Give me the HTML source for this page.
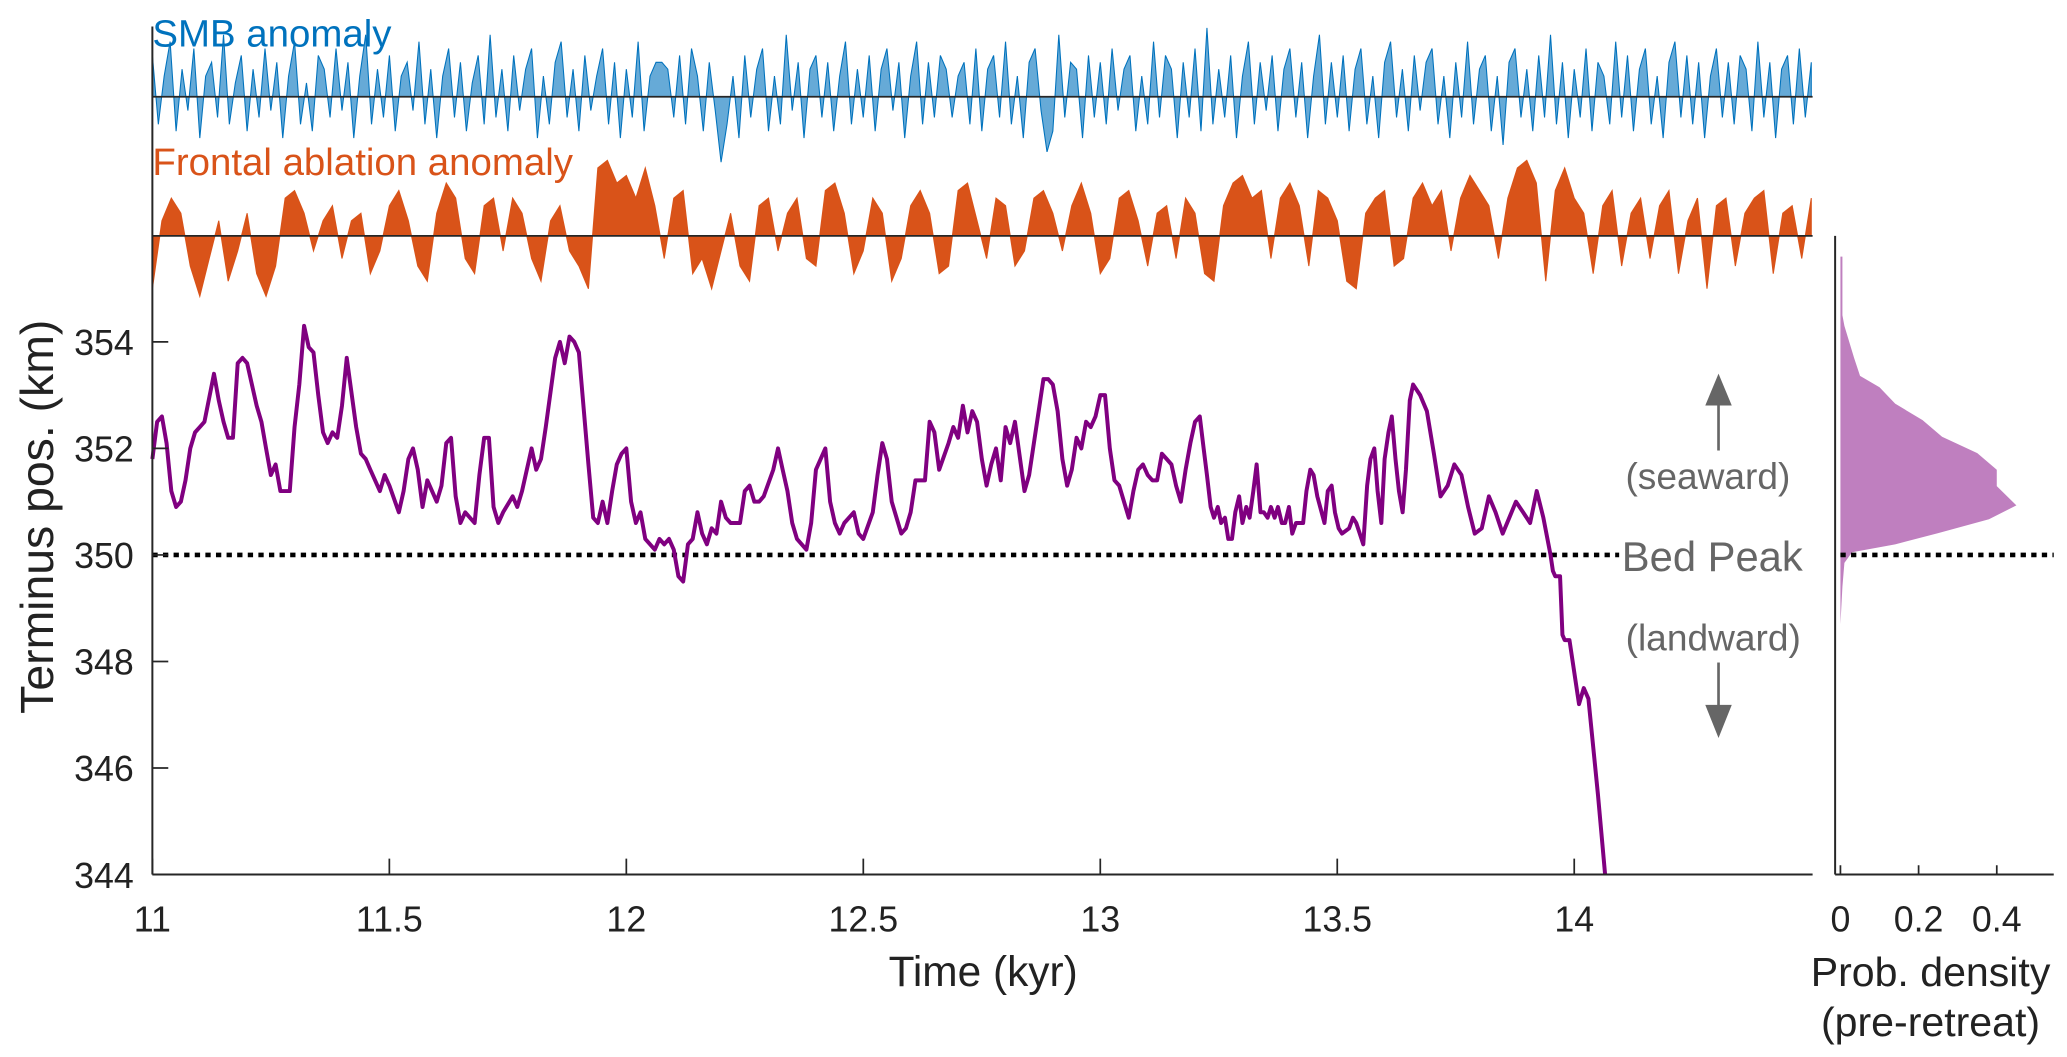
<!DOCTYPE html>
<html><head><meta charset="utf-8"><style>
html,body{margin:0;padding:0;background:#fff;}
svg{display:block;font-family:"Liberation Sans",sans-serif;}
</style></head><body>
<svg id="chart" width="2067" height="1057" viewBox="0 0 1560 797.7" xmlns="http://www.w3.org/2000/svg">
<g id="smbG"></g>
<g id="faG"></g>
<g id="densG"></g>
<g id="mainG"></g>
<g id="axG"></g>
<text x="115" y="35" font-size="29" fill="#0072BD">SMB anomaly</text>
<text x="115" y="132" font-size="29" fill="#D95319">Frontal ablation anomaly</text>
<text x="1289" y="369" font-size="28" fill="#666" text-anchor="middle">(seaward)</text>
<text x="1224" y="431" font-size="31.5" fill="#666">Bed Peak</text>
<text x="1293" y="491" font-size="28" fill="#666" text-anchor="middle">(landward)</text>
<g><line x1="1297" y1="340" x2="1297" y2="300" stroke="#666" stroke-width="2"/><polygon points="1297,282 1287,306 1307,306" fill="#666"/></g>
<g><line x1="1297" y1="500" x2="1297" y2="538" stroke="#666" stroke-width="2"/><polygon points="1297,557 1287,532 1307,532" fill="#666"/></g>
<text x="742" y="744" font-size="32" fill="#222" text-anchor="middle">Time (kyr)</text>
<text transform="translate(40,390) rotate(-90)" font-size="35" fill="#222" text-anchor="middle">Terminus pos. (km)</text>
<text x="1457" y="744" font-size="31" fill="#222" text-anchor="middle">Prob. density</text>
<text x="1457" y="782" font-size="31" fill="#222" text-anchor="middle">(pre-retreat)</text>
</svg>
<script>
const termT=[11.00,11.01,11.02,11.03,11.04,11.05,11.06,11.07,11.08,11.09,11.10,11.11,11.13,11.14,11.15,11.16,11.17,11.18,11.19,11.20,11.22,11.23,11.24,11.25,11.26,11.27,11.29,11.30,11.31,11.32,11.33,11.34,11.35,11.36,11.37,11.38,11.39,11.40,11.41,11.43,11.44,11.45,11.46,11.48,11.49,11.50,11.52,11.53,11.54,11.55,11.56,11.57,11.58,11.60,11.61,11.62,11.63,11.64,11.65,11.66,11.68,11.69,11.70,11.71,11.72,11.73,11.74,11.76,11.77,11.78,11.80,11.81,11.82,11.83,11.85,11.86,11.87,11.88,11.89,11.90,11.92,11.93,11.94,11.95,11.96,11.97,11.98,11.99,12.00,12.01,12.02,12.03,12.04,12.06,12.07,12.08,12.09,12.10,12.11,12.12,12.13,12.14,12.15,12.16,12.17,12.18,12.19,12.20,12.21,12.22,12.24,12.25,12.26,12.27,12.28,12.29,12.31,12.32,12.33,12.34,12.35,12.36,12.38,12.39,12.40,12.42,12.43,12.44,12.45,12.46,12.48,12.49,12.50,12.52,12.53,12.54,12.55,12.56,12.58,12.59,12.60,12.61,12.63,12.64,12.65,12.66,12.68,12.69,12.70,12.71,12.72,12.73,12.74,12.75,12.76,12.77,12.78,12.79,12.80,12.81,12.82,12.84,12.85,12.86,12.87,12.88,12.89,12.90,12.91,12.92,12.93,12.94,12.95,12.96,12.97,12.98,12.99,13.00,13.01,13.02,13.03,13.04,13.06,13.07,13.08,13.09,13.10,13.11,13.12,13.13,13.14,13.15,13.16,13.17,13.18,13.19,13.20,13.21,13.218,13.225,13.233,13.24,13.248,13.255,13.263,13.27,13.278,13.285,13.293,13.30,13.308,13.315,13.323,13.33,13.338,13.345,13.353,13.36,13.368,13.375,13.383,13.39,13.398,13.405,13.413,13.428,13.435,13.443,13.45,13.458,13.473,13.48,13.488,13.495,13.503,13.51,13.525,13.533,13.54,13.555,13.563,13.57,13.578,13.585,13.593,13.60,13.608,13.615,13.623,13.63,13.638,13.645,13.653,13.66,13.675,13.689,13.704,13.718,13.733,13.747,13.762,13.776,13.79,13.805,13.82,13.834,13.849,13.863,13.877,13.892,13.907,13.921,13.935,13.95,13.955,13.96,13.97,13.975,13.98,13.99,14.00,14.01,14.02,14.03,14.05,14.065];
const termV=[351.8,352.5,352.6,352.1,351.2,350.9,351.0,351.4,352.0,352.3,352.4,352.5,353.4,352.9,352.5,352.2,352.2,353.6,353.7,353.6,352.8,352.5,352.0,351.5,351.7,351.2,351.2,352.4,353.2,354.3,353.9,353.8,353.0,352.3,352.1,352.3,352.2,352.8,353.7,352.4,351.9,351.8,351.6,351.2,351.5,351.3,350.8,351.2,351.8,352.0,351.6,350.9,351.4,351.0,351.3,352.1,352.2,351.1,350.6,350.8,350.6,351.5,352.2,352.2,350.9,350.6,350.8,351.1,350.9,351.2,352.0,351.6,351.8,352.4,353.7,354.0,353.6,354.1,354.0,353.8,351.7,350.7,350.6,351.0,350.6,351.2,351.7,351.9,352.0,351.0,350.6,350.8,350.3,350.1,350.3,350.2,350.3,350.1,349.6,349.5,350.2,350.3,350.8,350.4,350.2,350.5,350.4,351.0,350.7,350.6,350.6,351.2,351.3,351.0,351.0,351.1,351.6,352.0,351.6,351.2,350.6,350.3,350.1,350.6,351.6,352.0,351.0,350.6,350.4,350.6,350.8,350.4,350.3,350.8,351.5,352.1,351.8,351.0,350.4,350.5,350.8,351.4,351.4,352.5,352.3,351.6,352.1,352.4,352.2,352.8,352.3,352.7,352.5,351.8,351.3,351.7,352.0,351.4,352.4,352.1,352.5,351.2,351.5,352.1,352.7,353.3,353.3,353.2,352.7,351.8,351.3,351.6,352.2,352.0,352.5,352.4,352.6,353.0,353.0,352.0,351.4,351.3,350.7,351.2,351.6,351.7,351.5,351.4,351.4,351.9,351.8,351.7,351.3,351.0,351.6,352.1,352.5,352.6,352.0,351.5,350.9,350.7,350.9,350.6,350.7,350.3,350.3,350.8,351.1,350.6,350.9,350.7,351.2,351.7,350.8,350.8,350.7,350.9,350.7,350.9,350.6,350.6,350.9,350.4,350.6,350.6,351.2,351.6,351.5,351.1,350.6,351.2,351.3,350.8,350.5,350.4,350.5,350.7,350.6,350.2,351.3,351.8,352.0,351.2,350.6,351.8,352.3,352.6,351.8,351.2,350.8,351.6,352.9,353.2,353.0,352.7,351.9,351.1,351.3,351.7,351.5,350.9,350.4,350.5,351.1,350.8,350.4,350.7,351.0,350.8,350.6,351.2,350.7,350.0,349.7,349.6,349.6,348.5,348.4,348.4,347.8,347.2,347.5,347.3,345.5,344.0];
const densKm=[355.6,354.5,354.3,353.7,353.36,353.15,352.84,352.53,352.22,351.91,351.6,351.29,350.93,350.67,350.41,350.2,350.05,349.85,349.4,348.7];
const densVal=[0.005,0.005,0.01,0.035,0.05,0.1,0.14,0.21,0.26,0.35,0.40,0.40,0.45,0.38,0.25,0.14,0.03,0.01,0.005,0];
const faVals=[-0.7,0.2,0.5,0.3,-0.4,-0.8,-0.3,0.2,-0.6,-0.2,0.3,-0.5,-0.8,-0.4,0.5,0.6,0.3,-0.2,0.2,0.4,-0.3,0.2,0.3,-0.5,-0.2,0.4,0.6,0.2,-0.4,-0.6,0.3,0.7,0.5,-0.3,-0.5,0.4,0.5,-0.2,0.5,0.3,-0.3,-0.6,0.2,0.4,-0.2,-0.4,-0.7,0.9,1.0,0.7,0.8,0.5,0.9,0.4,-0.3,0.5,0.6,-0.5,-0.3,-0.7,-0.2,0.3,-0.4,-0.6,0.4,0.5,-0.2,0.3,0.5,-0.3,-0.4,0.6,0.7,0.3,-0.5,-0.2,0.5,0.3,-0.6,-0.3,0.4,0.6,0.3,-0.5,-0.4,0.6,0.7,0.2,-0.3,0.5,0.4,-0.4,-0.2,0.5,0.6,0.3,-0.2,0.4,0.7,0.3,-0.5,-0.3,0.5,0.6,0.2,-0.4,0.3,0.4,-0.3,0.5,0.3,-0.5,-0.6,0.4,0.7,0.8,0.5,0.6,-0.3,0.5,0.7,0.4,-0.4,0.6,0.5,0.2,-0.6,-0.7,0.3,0.5,0.6,-0.4,-0.3,0.5,0.7,0.4,0.6,-0.2,0.5,0.8,0.6,0.4,-0.3,0.5,0.9,1.0,0.7,-0.6,0.6,0.9,0.5,0.3,-0.5,0.4,0.6,-0.4,0.3,0.5,-0.3,0.4,0.6,-0.5,0.2,0.5,-0.7,0.4,0.5,-0.4,0.3,0.5,0.6,-0.5,0.3,0.4,-0.3,0.5];
const smbVals=[0.6,-0.4,0.3,0.8,-0.5,0.4,-0.2,0.7,-0.6,0.3,0.5,-0.3,0.9,-0.4,0.2,0.6,-0.5,0.4,-0.3,0.7,
-0.2,0.5,-0.6,0.3,0.8,-0.4,0.2,-0.5,0.6,0.4,-0.3,0.7,-0.2,0.5,-0.6,0.3,0.9,-0.4,0.4,-0.3,
0.6,-0.5,0.3,0.5,-0.2,0.8,-0.4,0.4,-0.6,0.3,0.7,-0.3,0.5,-0.5,0.2,0.6,-0.4,0.9,-0.3,0.4,
-0.5,0.6,-0.2,0.4,0.7,-0.6,0.3,-0.4,0.5,0.8,-0.3,0.4,-0.5,0.6,-0.2,0.3,0.7,-0.4,0.5,-0.6,
0.4,-0.3,0.8,-0.5,0.3,0.5,0.5,0.4,-0.3,0.6,-0.4,0.7,0.3,-0.5,0.5,-0.2,-0.95,-0.4,0.3,-0.6,
0.6,-0.3,0.4,0.7,-0.5,0.3,-0.4,0.9,-0.2,0.5,-0.6,0.4,0.6,-0.3,0.5,-0.5,0.3,0.8,-0.4,0.4,
-0.3,0.6,-0.5,0.4,0.7,-0.2,0.5,-0.6,0.3,0.8,-0.4,0.5,-0.3,0.6,0.4,-0.3,0.3,0.5,-0.4,0.7,
-0.5,0.4,0.6,-0.3,0.8,-0.4,0.3,-0.6,0.5,0.7,-0.2,-0.8,-0.5,0.9,-0.3,0.5,0.4,-0.6,0.6,-0.3,
0.5,-0.4,0.7,-0.2,0.4,0.6,-0.5,0.3,-0.4,0.8,-0.3,0.6,0.4,-0.6,0.5,-0.3,0.7,-0.5,1.0,-0.4,
0.4,-0.3,0.6,-0.6,0.3,0.8,-0.4,0.5,-0.2,0.6,-0.5,0.4,0.7,-0.3,0.5,-0.6,0.3,0.9,-0.4,0.5,
-0.3,0.6,-0.5,0.4,0.7,-0.4,0.3,-0.6,0.5,0.8,-0.3,0.4,-0.5,0.6,-0.2,0.5,0.7,-0.4,0.3,-0.6,
0.5,-0.3,0.8,-0.4,0.4,0.6,-0.5,0.3,-0.7,0.5,0.7,-0.3,0.4,-0.5,0.6,-0.3,0.9,-0.4,0.5,-0.6,
0.4,-0.3,0.7,-0.5,0.5,0.3,-0.4,0.8,-0.3,0.6,-0.5,0.4,0.7,-0.4,0.3,-0.6,0.5,0.8,-0.3,0.6,
-0.4,0.5,-0.6,0.3,0.7,-0.3,0.5,-0.4,0.6,0.4,-0.5,0.8,-0.3,0.5,-0.6,0.4,0.6,-0.4,0.7,-0.3,0.5];
const xTicks=[11,11.5,12,12.5,13,13.5,14];
const xTickLabels=["11","11.5","12","12.5","13","13.5","14"];
const yTicks=[344,346,348,350,352,354];
const dTicks=[0,0.2,0.4];
const dTickLabels=["0","0.2","0.4"];
const bedPeak=350;
const faStep=0.02, smbStep=0.0125, t0=11;

const NS="http://www.w3.org/2000/svg";
const X=t=>115+(t-11)*357.7;
const Y=v=>660-(v-344)*40.2;
const Ys=v=>73-v*52;
const Yf=v=>178-v*57;
const Xd=d=>1389+d*295;
function mk(tag,attrs,parent){const e=document.createElementNS(NS,tag);for(const k in attrs)e.setAttribute(k,attrs[k]);parent.appendChild(e);return e;}

const smbG=document.getElementById('smbG');
let sp=`M${X(t0)},73`;
smbVals.forEach((v,i)=>{sp+=`L${X(t0+i*smbStep).toFixed(1)},${Ys(v).toFixed(1)}`;});
sp+=`L${X(t0+(smbVals.length-1)*smbStep).toFixed(1)},73Z`;
const smbPath=mk('path',{d:sp,fill:'#0072BD','fill-opacity':0.6,stroke:'#0072BD','stroke-width':0.8},smbG);


const faG=document.getElementById('faG');
let fp=`M${X(t0)},178`;
faVals.forEach((v,i)=>{fp+=`L${X(t0+i*faStep).toFixed(1)},${Yf(v).toFixed(1)}`;});
fp+=`L${X(t0+(faVals.length-1)*faStep).toFixed(1)},178Z`;
const faPath=mk('path',{d:fp,fill:'#D95319',stroke:'#D95319','stroke-width':0.8},faG);


const densG=document.getElementById('densG');
let dp=`M${Xd(0)},${Y(densKm[0])}`;
densKm.forEach((k,i)=>{dp+=`L${Xd(densVal[i]).toFixed(1)},${Y(k).toFixed(1)}`;});
dp+=`L${Xd(0)},${Y(densKm[densKm.length-1]).toFixed(1)}Z`;
const dPath=mk('path',{d:dp,fill:'#BF7FBF'},densG);


const mainG=document.getElementById('mainG');
const bl=mk('line',{x1:115,x2:1222,y1:Y(bedPeak),y2:Y(bedPeak),stroke:'#000','stroke-width':3.5,'stroke-dasharray':'4 4'},mainG);


const bl2=mk('line',{x1:1389,x2:1550,y1:Y(bedPeak),y2:Y(bedPeak),stroke:'#000','stroke-width':3.5,'stroke-dasharray':'4 4'},mainG);


const pts=termT.map((t,i)=>`${X(t).toFixed(1)},${Y(Math.max(termV[i],344)).toFixed(1)}`).join(' ');
const pl=mk('polyline',{points:pts,fill:'none',stroke:'#800080','stroke-width':3,'stroke-linejoin':'round'},mainG);


const ax=document.getElementById('axG');
const c='#262626';
mk('line',{x1:115,x2:115,y1:20,y2:660,stroke:c,'stroke-width':1.5},ax);
mk('line',{x1:115,x2:1368,y1:660,y2:660,stroke:c,'stroke-width':1.5},ax);
mk('line',{x1:115,x2:1368,y1:73,y2:73,stroke:c,'stroke-width':1.3},ax);
mk('line',{x1:115,x2:1368,y1:178,y2:178,stroke:c,'stroke-width':1.3},ax);
mk('line',{x1:1385,x2:1385,y1:178,y2:660,stroke:c,'stroke-width':1.5},ax);
mk('line',{x1:1385,x2:1550,y1:660,y2:660,stroke:c,'stroke-width':1.5},ax);
xTicks.forEach((t,i)=>{
  mk('line',{x1:X(t),x2:X(t),y1:660,y2:648,stroke:c,'stroke-width':1.3},ax);
  const tx=mk('text',{x:X(t),y:703,'font-size':27,'text-anchor':'middle',fill:'#222'},ax);
  tx.textContent=xTickLabels[i];
  
  
});
yTicks.forEach(v=>{
  mk('line',{x1:115,x2:127,y1:Y(v),y2:Y(v),stroke:c,'stroke-width':1.3},ax);
  const tx=mk('text',{x:101,y:Y(v)+10,'font-size':27,'text-anchor':'end',fill:'#222'},ax);
  tx.textContent=String(v);
  
  
});
dTicks.forEach((d,i)=>{
  mk('line',{x1:Xd(d),x2:Xd(d),y1:660,y2:653,stroke:c,'stroke-width':1.3},ax);
  const tx=mk('text',{x:Xd(d),y:703,'font-size':27,'text-anchor':'middle',fill:'#222'},ax);
  tx.textContent=dTickLabels[i];
  
  
});
</script>
</body></html>
